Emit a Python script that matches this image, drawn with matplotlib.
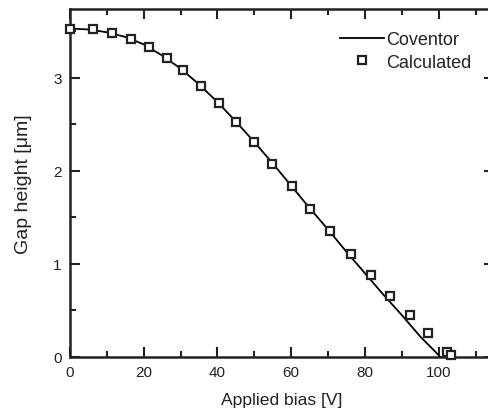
import numpy as np
import matplotlib.pyplot as plt
from matplotlib.ticker import MultipleLocator

plt.rcParams['font.family'] = ['Liberation Sans', 'DejaVu Sans']

# Coventor simulation (gap vs bias)
cov_bias = [0, 5, 10, 15, 20, 25, 30, 35, 40, 45, 50, 55, 60, 65, 70, 75, 80, 85, 90, 95, 100, 100.4]
cov_gap = [3.53, 3.52, 3.49, 3.44, 3.36, 3.24, 3.10, 2.93, 2.74, 2.53, 2.31, 2.08, 1.84, 1.60,
           1.37, 1.13, 0.90, 0.67, 0.45, 0.22, 0.02, 0.0]

# calculated values
calc_bias = [0, 6.2, 11.4, 16.5, 21.4, 26.2, 30.7, 35.5, 40.3, 45.0, 49.9, 54.9, 60.1, 65.2,
             70.6, 76.1, 81.6, 86.9, 92.1, 97.1, 102.3, 103.4]
calc_gap = [3.53, 3.52, 3.48, 3.42, 3.33, 3.21, 3.08, 2.91, 2.73, 2.53, 2.31, 2.075, 1.835, 1.59,
            1.35, 1.11, 0.88, 0.66, 0.45, 0.255, 0.05, 0.02]

fig = plt.figure(figsize=(4.88, 4.14), dpi=100)
ax = fig.add_axes([70 / 488, 56 / 414, 424 / 488, 348 / 414])

ax.plot(cov_bias, cov_gap, color='black', lw=1.3, label='Coventor', zorder=2)
ax.plot(calc_bias, calc_gap, ls='none', marker='s', ms=5.4, mfc='white', mec='#222222',
        mew=1.6, label='Calculated', zorder=3, clip_on=False)

ax.set_xlim(0, 115)
ax.set_ylim(0, 3.74)
ax.xaxis.set_major_locator(MultipleLocator(20))
ax.xaxis.set_minor_locator(MultipleLocator(10))
ax.yaxis.set_major_locator(MultipleLocator(1))
ax.yaxis.set_minor_locator(MultipleLocator(0.5))
ax.tick_params(which='both', direction='in', top=True, right=True, width=1.5,
               labelsize=11, colors='#222222', pad=6)
ax.tick_params(which='major', length=7)
ax.tick_params(which='minor', length=4)
for s in ax.spines.values():
    s.set_linewidth(1.8)
    s.set_color('#222222')

ax.set_xlabel('Applied bias [V]', fontsize=12.6, color='#222222', labelpad=9)
ax.set_ylabel('Gap height [\u03bcm]', fontsize=14, color='#222222', labelpad=15)

leg = ax.legend(loc='upper left', bbox_to_anchor=(0.608, 0.972), frameon=False, fontsize=13,
                handlelength=2.4, handletextpad=0.15, labelspacing=0.3, borderpad=0.2)
for t in leg.get_texts():
    t.set_color('#222222')

fig.savefig('out.png', dpi=100)
